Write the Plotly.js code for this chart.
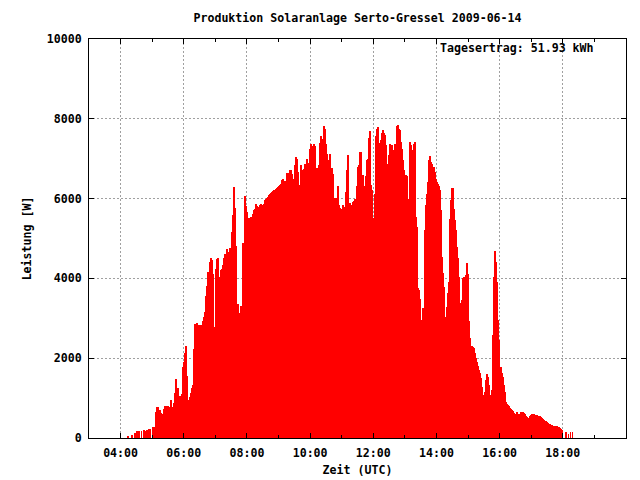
<!DOCTYPE html>
<html>
<head>
<meta charset="utf-8">
<script src="https://cdn.plot.ly/plotly-3.0.1.min.js"></script>
<style>html,body{margin:0;padding:0;background:#fff;}#chart{width:640px;height:480px;}</style>
</head>
<body>
<div id="chart"></div>
<script>
// Time of each reading, minutes after midnight (UTC)
const minutes = [
254,262,267,271,275,280,284,288,290,294,297,302,304,
307,308,310,312,314,316,318,320,322,324,326,327,329,331,333,335,337,339,341,343,345,346,348,350,352,354,356,358,360,362,364,365,367,369,371,373,375,377,379,381,383,384,386,388,390,392,394,396,398,400,402,403,405,407,409,411,413,415,417,419,421,422,424,426,428,430,432,434,436,438,440,441,443,445,447,449,451,453,455,457,458,460,462,464,466,468,470,472,474,
476,478,480,482,484,486,488,490,491,493,495,497,499,501,503,505,507,509,510,512,514,516,518,520,522,524,526,528,529,531,533,535,537,539,541,543,545,547,548,550,552,554,556,558,560,562,564,566,567,569,571,573,575,577,579,581,583,585,586,588,590,592,594,596,598,600,602,604,605,607,609,611,613,615,617,619,621,623,624,626,628,630,632,634,636,638,640,641,643,645,647,649,651,653,655,657,659,660,662,664,666,668,670,672,674,676,678,679,681,683,685,687,689,691,693,695,697,698,700,702,704,706,708,710,712,714,716,717,719,721,723,725,727,729,731,733,735,736,738,740,742,744,746,748,750,752,754,755,757,759,761,763,765,767,769,771,772,774,776,778,780,782,784,786,788,790,791,793,795,797,799,
801,803,805,807,809,810,812,814,816,818,820,822,824,826,828,829,831,833,835,837,839,841,843,845,847,848,850,852,854,856,858,860,862,864,866,867,869,871,873,875,877,879,881,883,885,886,888,890,892,894,896,898,900,902,904,905,907,909,911,913,915,917,919,921,923,924,926,928,930,932,934,936,938,940,942,943,945,947,949,951,953,955,957,959,960,962,964,966,968,970,972,974,976,978,979,981,983,985,987,989,991,993,995,997,998,1000,1002,1004,1006,1008,1010,1012,1014,1016,1017,1019,1021,1023,1025,1027,1029,1031,1033,1035,1036,1038,1040,1042,1044,1046,1048,1050,1052,1054,1055,1057,1059,1061,1063,1065,
1069,1071,1072,1074,1076,1078,1086,1091,1095,1098
];
// Power output in W
const watts = [
58,83,125,183,183,183,208,183,208,233,233,275,275,
333,640,766,766,708,625,600,583,733,808,733,808,733,791,775,958,708,775,875,1125,1291,1483,1225,1250,1058,1000,1108,1775,1908,2141,2241,2308,1566,958,1025,1125,1241,1333,2233,2858,2858,2816,2875,2833,2833,2833,2833,2933,3025,3150,3275,3558,3816,4166,4416,4500,4458,4108,2458,2791,4225,4108,4483,4500,4041,4208,4233,4333,4516,4600,4525,4166,4725,4666,4750,4766,5166,5600,6291,5775,4908,4816,3275,3358,3125,3308,2250,4875,3000,
6058,5808,5666,5516,5516,5516,5541,5541,5608,5708,5750,5858,5808,5791,5791,5833,5858,5816,5833,5875,5975,6000,6025,6050,6083,6108,6133,6158,6183,6208,6208,6233,6258,6283,6308,6333,6358,6458,6500,6358,6433,6358,6641,6641,6541,6708,6708,6608,6500,6500,6833,7041,7000,6666,6291,6333,6833,6708,6583,6750,6875,6500,7000,6750,6891,7250,7375,7308,7225,7358,7308,6708,6775,6483,6833,7400,7558,7500,7291,7808,7750,7358,7125,6791,6975,7108,6725,6775,6625,6025,5916,6025,5958,6308,5833,5775,5733,5750,5833,5791,5708,6166,6708,7083,5875,5891,5833,5558,5916,5941,6000,5833,6308,6791,6833,7166,7166,6583,6583,6166,6308,6558,6958,7000,7525,7691,6333,6208,5525,5308,6108,7558,7750,7791,7391,7316,7458,7650,7708,7641,7583,7333,6858,6516,7083,7375,7208,7333,7058,7208,7375,7083,7808,7833,7750,7708,7416,7250,6958,6708,6166,6583,6558,6000,5941,7416,7333,7208,7166,7375,7416,
5541,5291,3750,3708,3475,2958,2958,3250,3250,5208,5833,6125,6416,6975,7058,6916,6875,6708,6791,6666,6500,6416,6375,6308,6208,5708,4541,4125,3791,3000,3041,3291,3641,3916,5500,5975,6275,6275,5750,5458,5208,4791,4500,4041,3391,2875,3458,4000,4041,3875,4083,4391,4108,2941,2500,2308,2308,2275,2250,2141,2000,1916,1808,1708,1625,1500,1275,1083,983,1141,1458,1600,1541,1333,1083,1041,1208,2583,4041,4683,4416,3916,2958,2458,1791,1775,1625,1541,1333,1141,891,858,833,791,750,725,691,666,625,608,608,641,608,608,583,641,641,641,625,608,558,525,458,500,541,583,608,608,608,583,583,583,558,558,541,525,500,475,458,416,416,391,375,358,358,333,333,308,308,291,
291,275,275,250,233,208,160,108,158,158
];

const xTickVals = [240,360,480,600,720,840,960,1080,1200];
const xTickText = ['04:00','06:00','08:00','10:00','12:00','14:00','16:00','18:00','20:00'];
const yTickVals = [0,2000,4000,6000,8000,10000];
const yTickText = ['0','2000','4000','6000','8000','10000'];

const titleText = 'Produktion Solaranlage Serto-Gressel 2009-06-14';
const xTitle = 'Zeit (UTC)';
const yTitle = 'Leistung [W]';
const keyText = 'Tagesertrag: 51.93 kWh';

const FONT = {family: '"DejaVu Sans Mono", "Liberation Mono", monospace', size: 11.6, color: '#000', weight: 'bold'};

// Split into isolated readings (drawn thin) and the continuous stretch
const nEarly = 13, nLate = 4;
const sparseX = minutes.slice(0, nEarly).concat(minutes.slice(minutes.length - nLate));
const sparseY = watts.slice(0, nEarly).concat(watts.slice(watts.length - nLate));
const denseX = minutes.slice(nEarly, minutes.length - nLate);
const denseY = watts.slice(nEarly, watts.length - nLate);

const common = {type: 'bar', marker: {color: '#ff0000', line: {width: 0}}, hoverinfo: 'skip', showlegend: false};
const traces = [
  Object.assign({}, common, {x: denseX, y: denseY, width: 2}),
  Object.assign({}, common, {x: sparseX, y: sparseY, width: 1})
];

const layout = {
  width: 640, height: 480,
  margin: {l: 89, r: 14, t: 39, b: 42, pad: 0},
  paper_bgcolor: '#fff', plot_bgcolor: '#fff',
  font: FONT,
  bargap: 0, barmode: 'overlay',
  title: {text: titleText, font: FONT, xref: 'paper', x: 0.5, xanchor: 'center', yref: 'container', y: 1 - 18/480, yanchor: 'middle'},
  xaxis: {
    range: [180, 1200], type: 'linear',
    showline: true, linecolor: '#000', linewidth: 1, mirror: 'ticks',
    ticks: 'inside', ticklen: 5, tickcolor: '#000', tickwidth: 1,
    tickmode: 'array', tickvals: xTickVals, ticktext: xTickText,
    tickfont: FONT, ticklabelstandoff: 4,
    showgrid: true, gridcolor: '#a0a0a0', gridwidth: 1, griddash: '2px,2px',
    zeroline: false,
    minor: {tickmode: 'linear', tick0: 180, dtick: 60, ticks: 'inside', ticklen: 3, tickcolor: '#000', showgrid: false},
    title: {text: xTitle, font: FONT, standoff: 6}
  },
  yaxis: {
    range: [0, 10000],
    showline: true, linecolor: '#000', linewidth: 1, mirror: 'ticks',
    ticks: 'inside', ticklen: 5, tickcolor: '#000', tickwidth: 1,
    tickmode: 'array', tickvals: yTickVals, ticktext: yTickText,
    tickfont: FONT, ticklabelstandoff: 4,
    showgrid: true, gridcolor: '#a0a0a0', gridwidth: 1, griddash: '2px,2px',
    zeroline: false,
    title: {text: yTitle, font: FONT, standoff: 12}
  },
  annotations: [{
    text: keyText, xref: 'paper', yref: 'paper',
    x: (596 - 89) / 537, xanchor: 'right',
    y: (438 - 48) / 399, yanchor: 'middle',
    showarrow: false, font: FONT
  }]
};

Plotly.newPlot('chart', traces, layout, {displayModeBar: false});
</script>
</body>
</html>
